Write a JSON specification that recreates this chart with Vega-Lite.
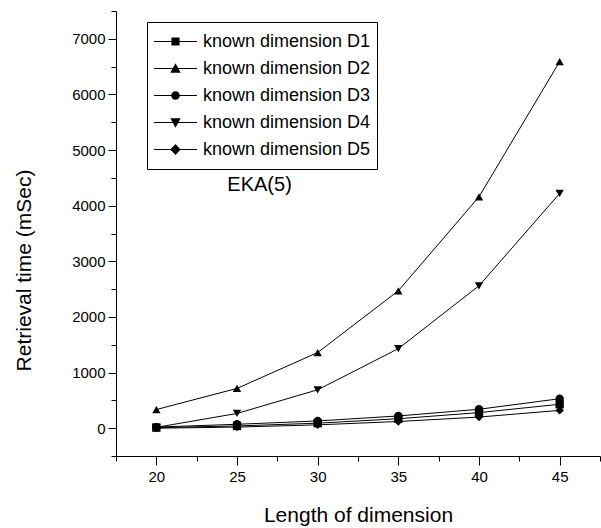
{
  "$schema": "https://vega.github.io/schema/vega-lite/v6.json",
  "width": 484,
  "height": 445,
  "autosize": {"type": "none"},
  "padding": {"left": 116, "top": 11, "right": 1, "bottom": 72},
  "background": "white",
  "config": {
    "view": {"stroke": null},
    "font": "Liberation Sans",
    "axis": {
      "domainColor": "black",
      "tickColor": "black",
      "labelColor": "black",
      "titleColor": "black",
      "labelFont": "Liberation Sans",
      "titleFont": "Liberation Sans",
      "labelFontSize": 15,
      "titleFontSize": 21,
      "titleFontWeight": "normal",
      "grid": false
    }
  },
  "datasets": {
    "series": [
      {"series": "known dimension D1", "length": 20, "time": 10},
      {"series": "known dimension D1", "length": 25, "time": 40},
      {"series": "known dimension D1", "length": 30, "time": 90},
      {"series": "known dimension D1", "length": 35, "time": 170},
      {"series": "known dimension D1", "length": 40, "time": 280},
      {"series": "known dimension D1", "length": 45, "time": 430},
      {"series": "known dimension D2", "length": 20, "time": 335},
      {"series": "known dimension D2", "length": 25, "time": 715},
      {"series": "known dimension D2", "length": 30, "time": 1360},
      {"series": "known dimension D2", "length": 35, "time": 2470},
      {"series": "known dimension D2", "length": 40, "time": 4160},
      {"series": "known dimension D2", "length": 45, "time": 6590},
      {"series": "known dimension D3", "length": 20, "time": 20},
      {"series": "known dimension D3", "length": 25, "time": 70},
      {"series": "known dimension D3", "length": 30, "time": 130},
      {"series": "known dimension D3", "length": 35, "time": 220},
      {"series": "known dimension D3", "length": 40, "time": 340},
      {"series": "known dimension D3", "length": 45, "time": 530},
      {"series": "known dimension D4", "length": 20, "time": 15},
      {"series": "known dimension D4", "length": 25, "time": 265},
      {"series": "known dimension D4", "length": 30, "time": 690},
      {"series": "known dimension D4", "length": 35, "time": 1430},
      {"series": "known dimension D4", "length": 40, "time": 2560},
      {"series": "known dimension D4", "length": 45, "time": 4220},
      {"series": "known dimension D5", "length": 20, "time": 0},
      {"series": "known dimension D5", "length": 25, "time": 20},
      {"series": "known dimension D5", "length": 30, "time": 60},
      {"series": "known dimension D5", "length": 35, "time": 120},
      {"series": "known dimension D5", "length": 40, "time": 200},
      {"series": "known dimension D5", "length": 45, "time": 320}
    ],
    "note": [{"length": 26.4, "time": 4370, "label": "EKA(5)"}]
  },
  "resolve": {"scale": {"shape": "independent"}, "legend": {"shape": "independent"}},
  "encoding": {
    "x": {
      "field": "length",
      "type": "quantitative",
      "scale": {"domain": [17.5, 47.5], "nice": false, "zero": false},
      "axis": {
        "title": "Length of dimension",
        "values": [17.5, 20, 22.5, 25, 27.5, 30, 32.5, 35, 37.5, 40, 42.5, 45, 47.5],
        "labelExpr": "datum.value % 5 === 0 ? datum.label : ''",
        "tickSize": {"condition": {"test": "datum.value % 5 === 0", "value": 9}, "value": 5},
        "labelPadding": 4,
        "titlePadding": 20
      }
    },
    "y": {
      "field": "time",
      "type": "quantitative",
      "scale": {"domain": [-500, 7500], "nice": false, "zero": false},
      "axis": {
        "title": "Retrieval time (mSec)",
        "values": [-500, 0, 500, 1000, 1500, 2000, 2500, 3000, 3500, 4000, 4500, 5000, 5500, 6000, 6500, 7000, 7500],
        "format": "d",
        "labelExpr": "datum.value % 1000 === 0 ? datum.label : ''",
        "tickSize": {"condition": {"test": "datum.value % 1000 === 0", "value": 8}, "value": 5},
        "labelPadding": 3,
        "titleY": 259,
        "titlePadding": 37
      }
    }
  },
  "layer": [
    {
      "data": {"name": "series"},
      "mark": {"type": "line", "color": "black", "strokeWidth": 1},
      "encoding": {"detail": {"field": "series"}}
    },
    {
      "data": {"name": "series"},
      "mark": {"type": "point", "filled": true, "color": "black", "opacity": 1, "size": 70},
      "encoding": {
        "shape": {
          "field": "series",
          "type": "nominal",
          "scale": {
            "domain": ["known dimension D1", "known dimension D2", "known dimension D3", "known dimension D4", "known dimension D5"],
            "range": ["square", "triangle-up", "circle", "triangle-down", "diamond"]
          },
          "legend": null
        }
      }
    },
    {
      "data": {"name": "series"},
      "transform": [{"filter": "false"}],
      "mark": {"type": "point", "filled": true, "color": "black", "opacity": 1},
      "encoding": {
        "shape": {
          "field": "series",
          "type": "nominal",
          "scale": {
            "domain": ["known dimension D1", "known dimension D2", "known dimension D3", "known dimension D4", "known dimension D5"],
            "range": [
              "M-1,-0.025H1V0.025H-1ZM-0.19,-0.19H0.19V0.19H-0.19Z",
              "M-1,-0.025H1V0.025H-1ZM0,-0.24L0.24,0.2H-0.24Z",
              "M-1,-0.025H1V0.025H-1ZM0.2,0A0.2,0.2 0 1,1 -0.2,0A0.2,0.2 0 1,1 0.2,0Z",
              "M-1,-0.025H1V0.025H-1ZM0,0.24L-0.24,-0.2H0.24Z",
              "M-1,-0.025H1V0.025H-1ZM0,-0.26L0.24,0L0,0.26L-0.24,0Z"
            ]
          },
          "legend": {
            "title": null,
            "orient": "none",
            "legendX": 31,
            "legendY": 11,
            "strokeColor": "black",
            "fillColor": "white",
            "padding": 6,
            "labelFont": "Liberation Sans",
            "labelFontSize": 18,
            "labelColor": "black",
            "labelLimit": 400,
            "labelOffset": 5,
            "symbolSize": 1849,
            "clipHeight": 27,
            "rowPadding": 0,
            "symbolFillColor": "black",
            "symbolOpacity": 1
          }
        }
      }
    },
    {
      "data": {"name": "note"},
      "mark": {"type": "text", "font": "Liberation Sans", "fontSize": 20, "color": "black", "align": "center", "baseline": "middle"},
      "encoding": {"text": {"field": "label"}}
    }
  ]
}
